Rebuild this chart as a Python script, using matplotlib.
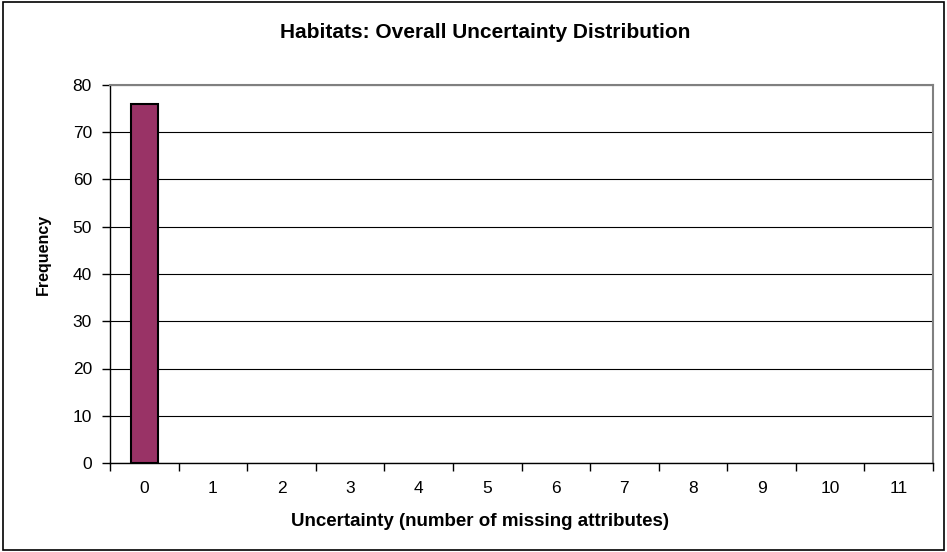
import numpy as np
import matplotlib.pyplot as plt
from matplotlib.patches import Rectangle

# uncertainty histogram: number of missing attributes vs frequency
categories = [str(i) for i in range(12)]
frequency = [76, 0, 0, 0, 0, 0, 0, 0, 0, 0, 0, 0]
y_ticks = [0, 10, 20, 30, 40, 50, 60, 70, 80]

plt.rcParams['font.family'] = ['Liberation Sans', 'DejaVu Sans']

W, H = 947, 552
fig = plt.figure(figsize=(W / 100, H / 100), dpi=100)

# plot area in pixel coordinates
left, right, top, bottom = 110, 933, 85, 463
ax = fig.add_axes([left / W, (H - bottom) / H, (right - left) / W, (bottom - top) / H])

x = np.arange(len(categories))
edges = ['black' if v > 0 else 'none' for v in frequency]
ax.bar(x, frequency, width=0.4, color='#993366', edgecolor=edges, linewidth=1.5, zorder=3)

ax.set_xlim(-0.5, len(categories) - 0.5)
ax.set_ylim(0, 80)

ax.set_yticks(y_ticks)
ax.set_yticklabels([str(v) for v in y_ticks], fontsize=12.5)
ax.yaxis.grid(True, color='black', linewidth=0.8, zorder=0)

# ticks between categories, labels at centres
ax.set_xticks(np.arange(len(categories) + 1) - 0.5)
ax.set_xticklabels([])
ax.set_xticks(x, minor=True)
ax.set_xticklabels(categories, minor=True, fontsize=12.5)
ax.tick_params(axis='x', which='major', direction='out', length=6, width=1, color='black')
ax.tick_params(axis='x', which='minor', length=0, pad=13)
ax.tick_params(axis='y', direction='out', length=6, width=1, pad=7)

for side in ('top', 'right'):
    ax.spines[side].set_color('#808080')
    ax.spines[side].set_linewidth(1.5)
for side in ('left', 'bottom'):
    ax.spines[side].set_color('black')
    ax.spines[side].set_linewidth(1)

fig.text(485 / W, 1 - 32 / H, 'Habitats: Overall Uncertainty Distribution',
         ha='center', va='center', fontsize=15, fontweight='bold')
fig.text(480 / W, 1 - 521 / H, 'Uncertainty (number of missing attributes)',
         ha='center', va='center', fontsize=13.5, fontweight='bold')
fig.text(43 / W, 1 - 254 / H, 'Frequency', rotation=90,
         ha='center', va='center', fontsize=11.5, fontweight='bold')

# outer chart border
fig.patches.append(Rectangle((3 / W, 2 / H), (W - 6) / W, (H - 4) / H,
                             transform=fig.transFigure, fill=False,
                             edgecolor='black', linewidth=1.2))

fig.savefig('out.png', dpi=100)
